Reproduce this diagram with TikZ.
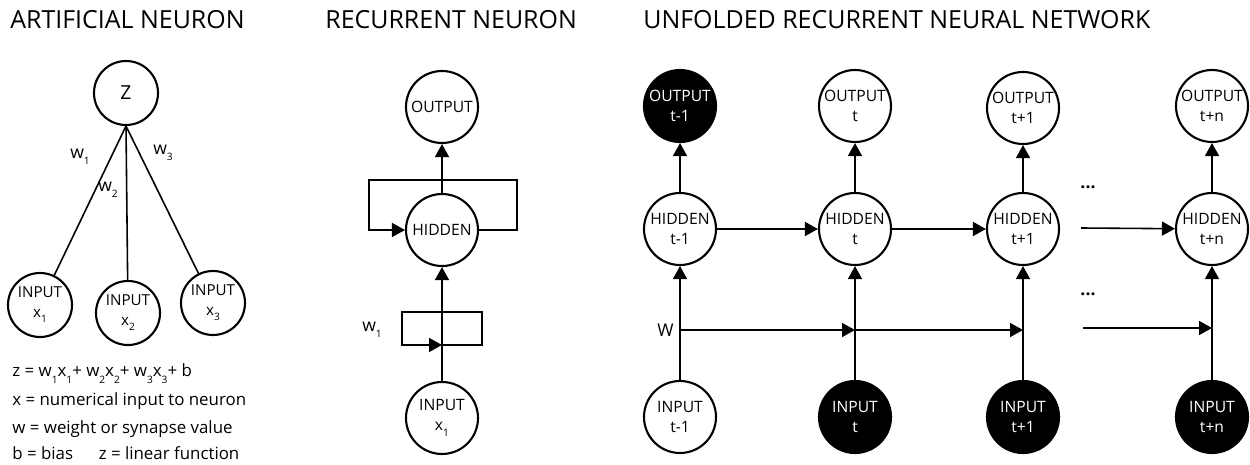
\documentclass[tikz,border=0pt]{standalone}
\usepackage{fontspec}
\setmainfont{Open Sans}
\usetikzlibrary{arrows.meta}
\newcommand{\idx}[1]{\raisebox{-0.7ex}{\fontsize{5.8}{6}\selectfont #1}}
\tikzstyle{neuron} = [circle, draw=black, line width=1.2pt, minimum size=1.44cm, inner sep=0pt, align=center, font=\fontsize{8.9}{11.5}\selectfont]
\tikzstyle{neuronB} = [neuron, fill=black, text=white]
\tikzstyle{neuronS} = [neuron, minimum size=1.28cm, font=\fontsize{8.6}{11}\selectfont]
\tikzstyle{title} = [anchor=west, inner sep=0pt, font=\fontsize{14.2}{16}\selectfont]
\tikzstyle{formula} = [anchor=base west, inner sep=0pt, font=\fontsize{9.6}{12}\selectfont]
\tikzstyle{wLabel} = [inner sep=0pt, font=\fontsize{10}{12}\selectfont]
\tikzstyle{wire} = [line width=0.9pt]
\tikzstyle{arrow} = [line width=0.9pt, -{Triangle[length=0.26cm,width=0.28cm]}]

\begin{document}
\begin{tikzpicture}[node distance=2.46cm]
        \useasboundingbox (0,0) rectangle (25,9.3);

        % artificial neuron
        \node (ttlA) [title] at (0.2,8.9) {ARTIFICIAL NEURON};
        \node (z) [neuronS, font=\fontsize{11}{12}\selectfont] at (2.52,7.44) {Z};
        \node (x1) [neuronS] at (0.8,3.2) {INPUT\\x\idx{1}};
        \node (x2) [neuronS] at (2.56,3.04) {INPUT\\x\idx{2}};
        \node (x3) [neuronS] at (4.26,3.24) {INPUT\\x\idx{3}};
        \draw [wire] (z.south) -- (x1);
        \draw [wire] (z.south) -- (x2);
        \draw [wire] (z.south) -- (x3);
        \node (w1) [wLabel] at (1.6,6.16) {w\idx{1}};
        \node (w2) [wLabel] at (2.16,5.5) {w\idx{2}};
        \node (w3) [wLabel] at (3.26,6.24) {w\idx{3}};
        \node (eqZ) [formula] at (0.24,1.76) {z = w\idx{1}x\idx{1}+ w\idx{2}x\idx{2}+ w\idx{3}x\idx{3}+ b};
        \node (eqX) [formula] at (0.24,1.18) {x = numerical input to neuron};
        \node (eqW) [formula] at (0.24,0.62) {w = weight or synapse value};
        \node (eqB) [formula] at (0.24,0.1) {b = bias\quad\ \ z = linear function};

        % recurrent neuron
        \node (ttlB) [title] at (6.5,8.9) {RECURRENT NEURON};
        \node (rOut) [neuron] at (8.84,7.16) {OUTPUT};
        \node (rHid) [neuron, below of=rOut] {HIDDEN};
        \node (rIn) [neuron, below of=rHid, yshift=-1.3cm] {INPUT\\x\idx{1}};
        \coordinate (wTap) at (8.84,2.4);
        \draw [arrow] (rHid) -- (rOut);
        \draw [arrow] (rIn) -- (rHid);
        \draw [arrow] (rHid.east) -- ++(0.76,0) -- ++(0,1) -- ++(-2.96,0) -- ++(0,-1) -- (rHid.west);
        \draw [arrow] (wTap) -- ++(0.8,0) -- ++(0,0.66) -- ++(-1.6,0) -- ++(0,-0.66) -- (wTap);
        \node (rW) [wLabel] at (7.44,2.7) {w\idx{1}};

        % unfolded network
        \node (ttlC) [title] at (12.86,8.9) {UNFOLDED RECURRENT NEURAL NETWORK};
        \node (uOut1) [neuronB] at (13.6,7.18) {OUTPUT\\t-1};
        \node (uOut2) [neuron] at (17.1,7.18) {OUTPUT\\t};
        \node (uOut3) [neuron] at (20.46,7.14) {OUTPUT\\t+1};
        \node (uOut4) [neuron] at (24.24,7.18) {OUTPUT\\t+n};
        \node (uHid1) [neuron, below of=uOut1] {HIDDEN\\t-1};
        \node (uHid2) [neuron, below of=uOut2] {HIDDEN\\t};
        \node (uHid3) [neuron, below of=uOut3, yshift=0.04cm] {HIDDEN\\t+1};
        \node (uHid4) [neuron, below of=uOut4] {HIDDEN\\t+n};
        \node (uIn1) [neuron, below of=uHid1, yshift=-1.3cm] {INPUT\\t-1};
        \node (uIn2) [neuronB, below of=uHid2, yshift=-1.3cm] {INPUT\\t};
        \node (uIn3) [neuronB, below of=uHid3, yshift=-1.3cm] {INPUT\\t+1};
        \node (uIn4) [neuronB, below of=uHid4, yshift=-1.3cm] {INPUT\\t+n};

        \draw [arrow] (uHid1) -- (uOut1);
        \draw [arrow] (uHid2) -- (uOut2);
        \draw [arrow] (uHid3) -- (uOut3);
        \draw [arrow] (uHid4) -- (uOut4);
        \draw [arrow] (uIn1) -- (uHid1);
        \draw [arrow] (uIn2) -- (uHid2);
        \draw [arrow] (uIn3) -- (uHid3);
        \draw [arrow] (uIn4) -- (uHid4);

        \draw [arrow] (uHid1) -- (uHid2);
        \draw [arrow] (uHid2) -- (uHid3);
        \coordinate (hFree) at (21.62,4.74);
        \draw [arrow] (hFree) -- (uHid4);

        \coordinate (wA) at (13.6,2.7);
        \coordinate (wB) at (17.1,2.7);
        \coordinate (wC) at (20.46,2.7);
        \coordinate (wFree) at (21.66,2.74);
        \coordinate (wD) at (24.24,2.74);
        \draw [arrow] (wA) -- (wB);
        \draw [arrow] (wB) -- (wC);
        \draw [arrow] (wFree) -- (wD);
        \node (uW) [wLabel, anchor=east] at (13.48,2.7) {W};

        \node (dotsH) [wLabel] at (21.76,5.56) {\textbf{...}};
        \node (dotsW) [wLabel] at (21.76,3.42) {\textbf{...}};

    \end{tikzpicture}
\end{document}
